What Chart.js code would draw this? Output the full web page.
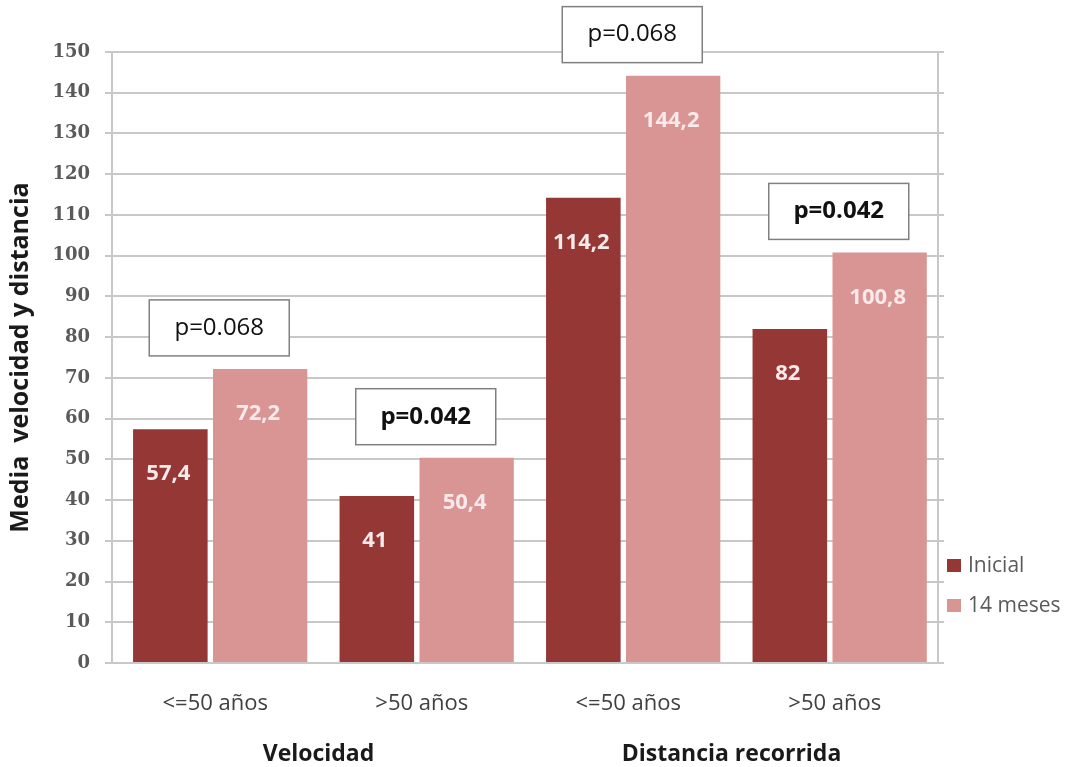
<!DOCTYPE html>
<html>
<head>
<meta charset="utf-8">
<script src="https://cdn.jsdelivr.net/npm/chart.js@4.4.0/dist/chart.umd.min.js"></script>
<style>
  html, body { margin: 0; padding: 0; background: #fff; }
</style>
</head>
<body>
<canvas id="chart" width="1077" height="767"></canvas>
<script>
// Chart data
const categories = ["<=50 años", ">50 años", "<=50 años", ">50 años"];
const groups = ["Velocidad", "Distancia recorrida"];
const inicial = [57.4, 41, 114.2, 82];
const meses14 = [72.2, 50.4, 144.2, 100.8];
const seriesNames = ["Inicial", "14 meses"];
const pValues = ["p=0.068", "p=0.042", "p=0.068", "p=0.042"];
const pBold = [false, true, false, true];
const yMin = 0, yMax = 150, yStep = 10;

const colors = ["#953735", "#d99594"];
const gridColor = "#c8c8c8";

Chart.defaults.font.family = "'Open Sans', sans-serif";

// value labels inside bars, p-value boxes, legend at the right
const overlay = {
  id: "overlay",
  afterDatasetsDraw(chart) {
    const ctx = chart.ctx;
    const xs = chart.scales.x, ys = chart.scales.y;
    const area = chart.chartArea;
    ctx.save();

    ctx.font = "bold 22px 'Open Sans'";
    ctx.textAlign = "center";
    ctx.textBaseline = "middle";
    ctx.fillStyle = "#f8eaea";
    chart.data.datasets.forEach((ds, i) => {
      chart.getDatasetMeta(i).data.forEach((bar, j) => {
        ctx.fillText(String(ds.data[j]).replace(".", ","), bar.x - 2, bar.y + 45);
      });
    });

    pValues.forEach((p, j) => {
      const w = 140, h = 56;
      const cx = xs.getPixelForValue(j) + 4;
      const bottom = ys.getPixelForValue(Math.max(inicial[j], meses14[j])) - 13;
      ctx.fillStyle = "#fff";
      ctx.fillRect(cx - w / 2, bottom - h, w, h);
      ctx.strokeStyle = "#808080";
      ctx.lineWidth = 1.5;
      ctx.strokeRect(cx - w / 2, bottom - h, w, h);
      ctx.fillStyle = "#111";
      ctx.font = (pBold[j] ? "bold " : "") + "24px 'Open Sans'";
      ctx.fillText(p, cx, bottom - h / 2);
    });

    ctx.textAlign = "left";
    ctx.font = "21px 'Open Sans'";
    seriesNames.forEach((name, i) => {
      const y = area.bottom - 97 + i * 40;
      ctx.fillStyle = colors[i];
      ctx.fillRect(area.right + 9, y - 7, 14, 13);
      ctx.fillStyle = "#5a5a5a";
      ctx.fillText(name, area.right + 30, y);
    });
    ctx.restore();
  }
};

new Chart(document.getElementById("chart"), {
  type: "bar",
  data: {
    labels: categories,
    datasets: [
      {
        label: seriesNames[0],
        data: inicial,
        backgroundColor: colors[0],
        barPercentage: 0.83,
        categoryPercentage: 0.87,
      },
      {
        label: seriesNames[1],
        data: meses14,
        backgroundColor: colors[1],
        barPercentage: 1.05,
        categoryPercentage: 0.87,
      },
    ],
  },
  options: {
    responsive: false,
    animation: false,
    layout: { padding: { top: 52, right: 133, left: 0, bottom: 0 } },
    plugins: { legend: { display: false }, tooltip: { enabled: false } },
    scales: {
      x: {
        position: "bottom",
        grid: { display: false, drawTicks: false },
        border: { display: true, color: gridColor, width: 2 },
        ticks: { color: "#404040", font: { size: 22 }, padding: 28 },
        afterFit: (s) => { s.height = 66; },
      },
      x2: {
        type: "category",
        labels: groups,
        position: "bottom",
        grid: { display: false, drawTicks: false },
        border: { display: false },
        ticks: { color: "#1a1a1a", font: { size: 23, weight: "bold" }, padding: 12 },
        afterFit: (s) => { s.height = 38; },
      },
      y: {
        min: yMin,
        max: yMax,
        grid: { color: gridColor, lineWidth: 2, tickLength: 7 },
        border: { color: gridColor, width: 2 },
        ticks: {
          stepSize: yStep,
          color: "#5a5a5a",
          padding: 15,
          font: { family: "'DejaVu Serif'", size: 18, weight: "bold" },
        },
        title: {
          display: true,
          text: "Media  velocidad y distancia",
          color: "#1a1a1a",
          font: { size: 25, weight: "bold" },
          padding: { top: 6, bottom: 0 },
        },
        afterFit: (s) => { s.width = 112; },
      },
      yR: {
        position: "right",
        min: yMin,
        max: yMax,
        grid: { drawOnChartArea: false, color: gridColor, lineWidth: 2, tickLength: 6 },
        border: { color: gridColor, width: 2 },
        ticks: { stepSize: yStep, display: false },
        afterFit: (s) => { s.width = 6; },
      },
    },
  },
  plugins: [overlay],
});
</script>
</body>
</html>
